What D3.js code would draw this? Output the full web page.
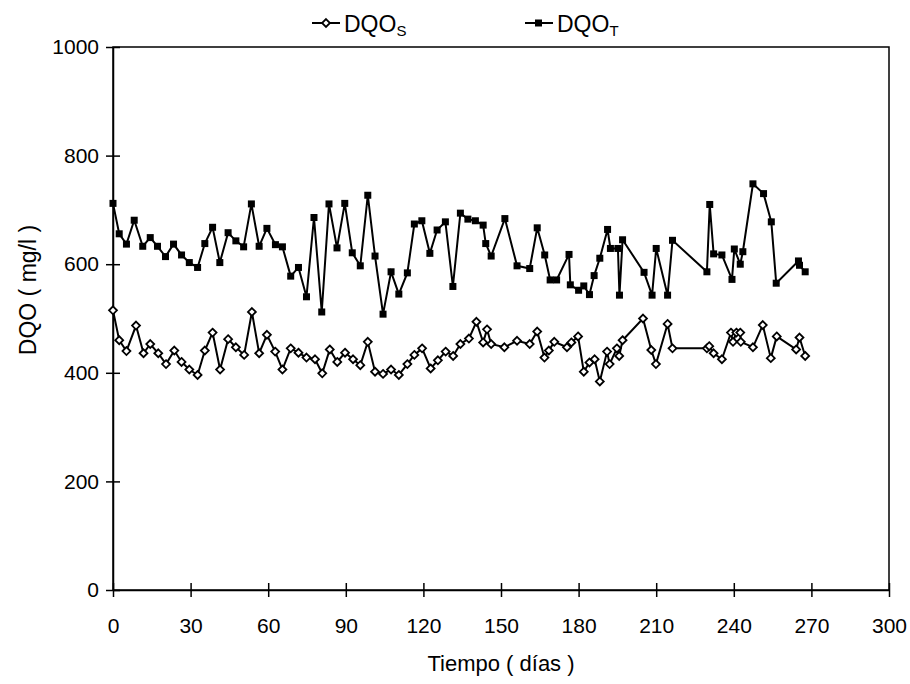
<!DOCTYPE html>
<html>
<head>
<meta charset="utf-8">
<script src="https://cdn.jsdelivr.net/npm/d3@7"></script>
<style>
  body { margin: 0; background: #fff; }
  text { font-family: "Liberation Sans", Arial, sans-serif; fill: #000; }
</style>
</head>
<body>
<script>
// Width and height
var w = 910;
var h = 684;
var margin = {top: 47, right: 21, bottom: 94, left: 113};

// DQO soluble (open diamonds)
var daysS = [0, 2.4, 5.2, 8.9, 11.8, 14.4, 17.5, 20.5, 23.7, 26.5, 29.5, 32.7, 35.5, 38.5,
  41.4, 44.5, 47.5, 50.7, 53.7, 56.5, 59.5, 62.7, 65.5, 68.7, 71.7, 74.8, 78.1, 80.9,
  83.8, 86.7, 89.7, 92.8, 95.6, 98.5, 101.3, 104.4, 107.5, 110.5, 113.8, 116.5, 119.5,
  122.8, 125.6, 128.6, 131.5, 134.3, 137.6, 140.5, 143.1, 144.6, 146.2, 151.3, 156.2,
  161.1, 164, 166.8, 168.5, 170.6, 175.5, 177.2, 179.8, 182, 184.2, 186.2, 188.2, 191,
  192, 194.8, 195.7, 197, 204.9, 208.1, 209.9, 214.4, 216.3, 229.6, 230.5, 232.2, 235.4,
  238.9, 239.7, 241, 242.5, 242.7, 247.4, 251.2, 254.3, 256.6, 264.1, 265.4, 267.6];
var dqoS = [515, 460, 440, 487, 436, 453, 436, 416, 441, 420, 406, 396, 441, 474,
  406, 462, 447, 433, 512, 436, 470, 439, 406, 445, 437, 428, 425, 399,
  443, 420, 437, 425, 414, 457, 402, 398, 406, 396, 416, 433, 445,
  408, 423, 439, 431, 453, 463, 494, 456, 480, 453, 447, 459,
  453, 476, 428, 441, 457, 447, 456, 467, 402, 419, 425, 384, 439,
  416, 445, 431, 460, 500, 442, 416, 490, 445, 445, 449, 436, 425,
  474, 457, 474, 474, 457, 447, 488, 427, 467, 443, 465, 431];

// DQO total (filled squares)
var daysT = [0, 2.4, 5.2, 8.2, 11.5, 14.4, 17.2, 20.3, 23.4, 26.5, 29.5, 32.7, 35.5, 38.5,
  41.3, 44.5, 47.5, 50.5, 53.5, 56.5, 59.5, 62.8, 65.5, 68.7, 71.7, 74.8, 77.7, 80.7,
  83.5, 86.6, 89.6, 92.5, 95.6, 98.5, 101.3, 104.4, 107.5, 110.5, 113.8, 116.5, 119.4,
  122.5, 125.3, 128.5, 131.4, 134.3, 137.2, 140.1, 143.1, 144.1, 146.2, 151.5, 156.2,
  161.1, 164, 166.9, 169, 171.5, 176.3, 176.8, 180, 182, 184.2, 186, 188.2, 191.2,
  192.3, 195.2, 195.8, 197, 205.3, 208.4, 210, 214.4, 216.3, 229.6, 230.7, 232.2, 235.4,
  239.3, 240.2, 242.5, 243.5, 247.4, 251.5, 254.5, 256.4, 265, 265.4, 267.6];
var dqoT = [712, 656, 637, 681, 633, 649, 633, 614, 637, 617, 603, 594, 638, 668,
  603, 658, 643, 632, 711, 633, 666, 636, 632, 578, 594, 540, 686, 512,
  711, 630, 712, 621, 597, 727, 615, 508, 586, 545, 584, 674, 680,
  620, 663, 678, 559, 694, 683, 680, 672, 638, 615, 684, 597,
  592, 667, 617, 571, 571, 618, 562, 552, 560, 544, 579, 611, 664,
  629, 629, 543, 645, 585, 543, 629, 543, 644, 586, 710, 619, 617,
  572, 628, 600, 623, 748, 730, 678, 565, 606, 598, 586];

var xTicks = [0, 30, 60, 90, 120, 150, 180, 210, 240, 270, 300];
var yTicks = [0, 200, 400, 600, 800, 1000];

var xScale = d3.scaleLinear()
    .domain([0, 300])
    .range([margin.left, w - margin.right]);

var yScale = d3.scaleLinear()
    .domain([0, 1000])
    .range([h - margin.bottom, margin.top]);

//Create SVG element
var svg = d3.select("body")
    .append("svg")
    .attr("width", w)
    .attr("height", h);

// frame
svg.append("rect")
    .attr("x", xScale(0))
    .attr("y", yScale(1000))
    .attr("width", xScale(300) - xScale(0))
    .attr("height", yScale(0) - yScale(1000))
    .attr("fill", "none")
    .attr("stroke", "#000")
    .attr("stroke-width", 1.5);

// axes with crossing ticks
var xAxis = svg.append("g")
    .attr("transform", "translate(0," + yScale(0) + ")")
    .call(d3.axisBottom(xScale).tickValues(xTicks).tickFormat(d3.format("d"))
        .tickSizeInner(7).tickSizeOuter(0).tickPadding(21));
xAxis.selectAll(".tick line").attr("y1", -7).attr("stroke-width", 1.5);

var yAxis = svg.append("g")
    .attr("transform", "translate(" + xScale(0) + ",0)")
    .call(d3.axisLeft(yScale).tickValues(yTicks).tickFormat(d3.format("d"))
        .tickSizeInner(7).tickSizeOuter(0).tickPadding(7));
yAxis.selectAll(".tick line").attr("x1", 7).attr("stroke-width", 1.5);

svg.selectAll(".domain").attr("stroke-width", 1.5);
svg.selectAll(".tick text")
    .attr("font-size", "21px")
    .attr("font-family", "'Liberation Sans', Arial, sans-serif");

// axis titles
svg.append("text")
    .attr("x", (xScale(0) + xScale(300)) / 2)
    .attr("y", 671)
    .attr("text-anchor", "middle")
    .attr("font-size", "22px")
    .text("Tiempo ( días )");

svg.append("text")
    .attr("transform", "translate(36,290) rotate(-90)")
    .attr("text-anchor", "middle")
    .attr("font-size", "23px")
    .text("DQO ( mg/l )");

var line = d3.line()
    .x(d => xScale(d[0]))
    .y(d => yScale(d[1]));

var dataS = daysS.map((d, i) => [d, dqoS[i]]);
var dataT = daysT.map((d, i) => [d, dqoT[i]]);

// DQO total
svg.append("path")
    .datum(dataT)
    .attr("d", line)
    .attr("fill", "none")
    .attr("stroke", "#000")
    .attr("stroke-width", 2);

svg.selectAll("rect.sq")
    .data(dataT)
    .enter()
    .append("rect")
    .attr("class", "sq")
    .attr("x", d => xScale(d[0]) - 3.5)
    .attr("y", d => yScale(d[1]) - 3.5)
    .attr("width", 7)
    .attr("height", 7)
    .attr("fill", "#000");

// DQO soluble
svg.append("path")
    .datum(dataS)
    .attr("d", line)
    .attr("fill", "none")
    .attr("stroke", "#000")
    .attr("stroke-width", 2);

var diamond = d3.symbol().type(d3.symbolDiamond2).size(40);

svg.selectAll("path.dm")
    .data(dataS)
    .enter()
    .append("path")
    .attr("class", "dm")
    .attr("d", diamond)
    .attr("transform", d => "translate(" + xScale(d[0]) + "," + yScale(d[1]) + ")")
    .attr("fill", "#fff")
    .attr("stroke", "#000")
    .attr("stroke-width", 1.8);

// legend
var legend = [
    {name: "DQO", sub: "S", x: 312, filled: false},
    {name: "DQO", sub: "T", x: 525, filled: true}
];

var lg = svg.selectAll("g.legend")
    .data(legend)
    .enter()
    .append("g")
    .attr("class", "legend")
    .attr("transform", d => "translate(" + d.x + ",23)");

lg.append("line")
    .attr("x1", 0).attr("x2", 28)
    .attr("y1", 0).attr("y2", 0)
    .attr("stroke", "#000")
    .attr("stroke-width", 2);

lg.filter(d => d.filled)
    .append("rect")
    .attr("x", 10).attr("y", -3.5)
    .attr("width", 7).attr("height", 7)
    .attr("fill", "#000");

lg.filter(d => !d.filled)
    .append("path")
    .attr("d", diamond)
    .attr("transform", "translate(14,0)")
    .attr("fill", "#fff")
    .attr("stroke", "#000")
    .attr("stroke-width", 1.8);

var lt = lg.append("text")
    .attr("x", 32)
    .attr("y", 9)
    .attr("font-size", "23px");
lt.append("tspan").text(d => d.name);
lt.append("tspan")
    .attr("font-size", "15px")
    .attr("dy", 4)
    .text(d => d.sub);
</script>
</body>
</html>
